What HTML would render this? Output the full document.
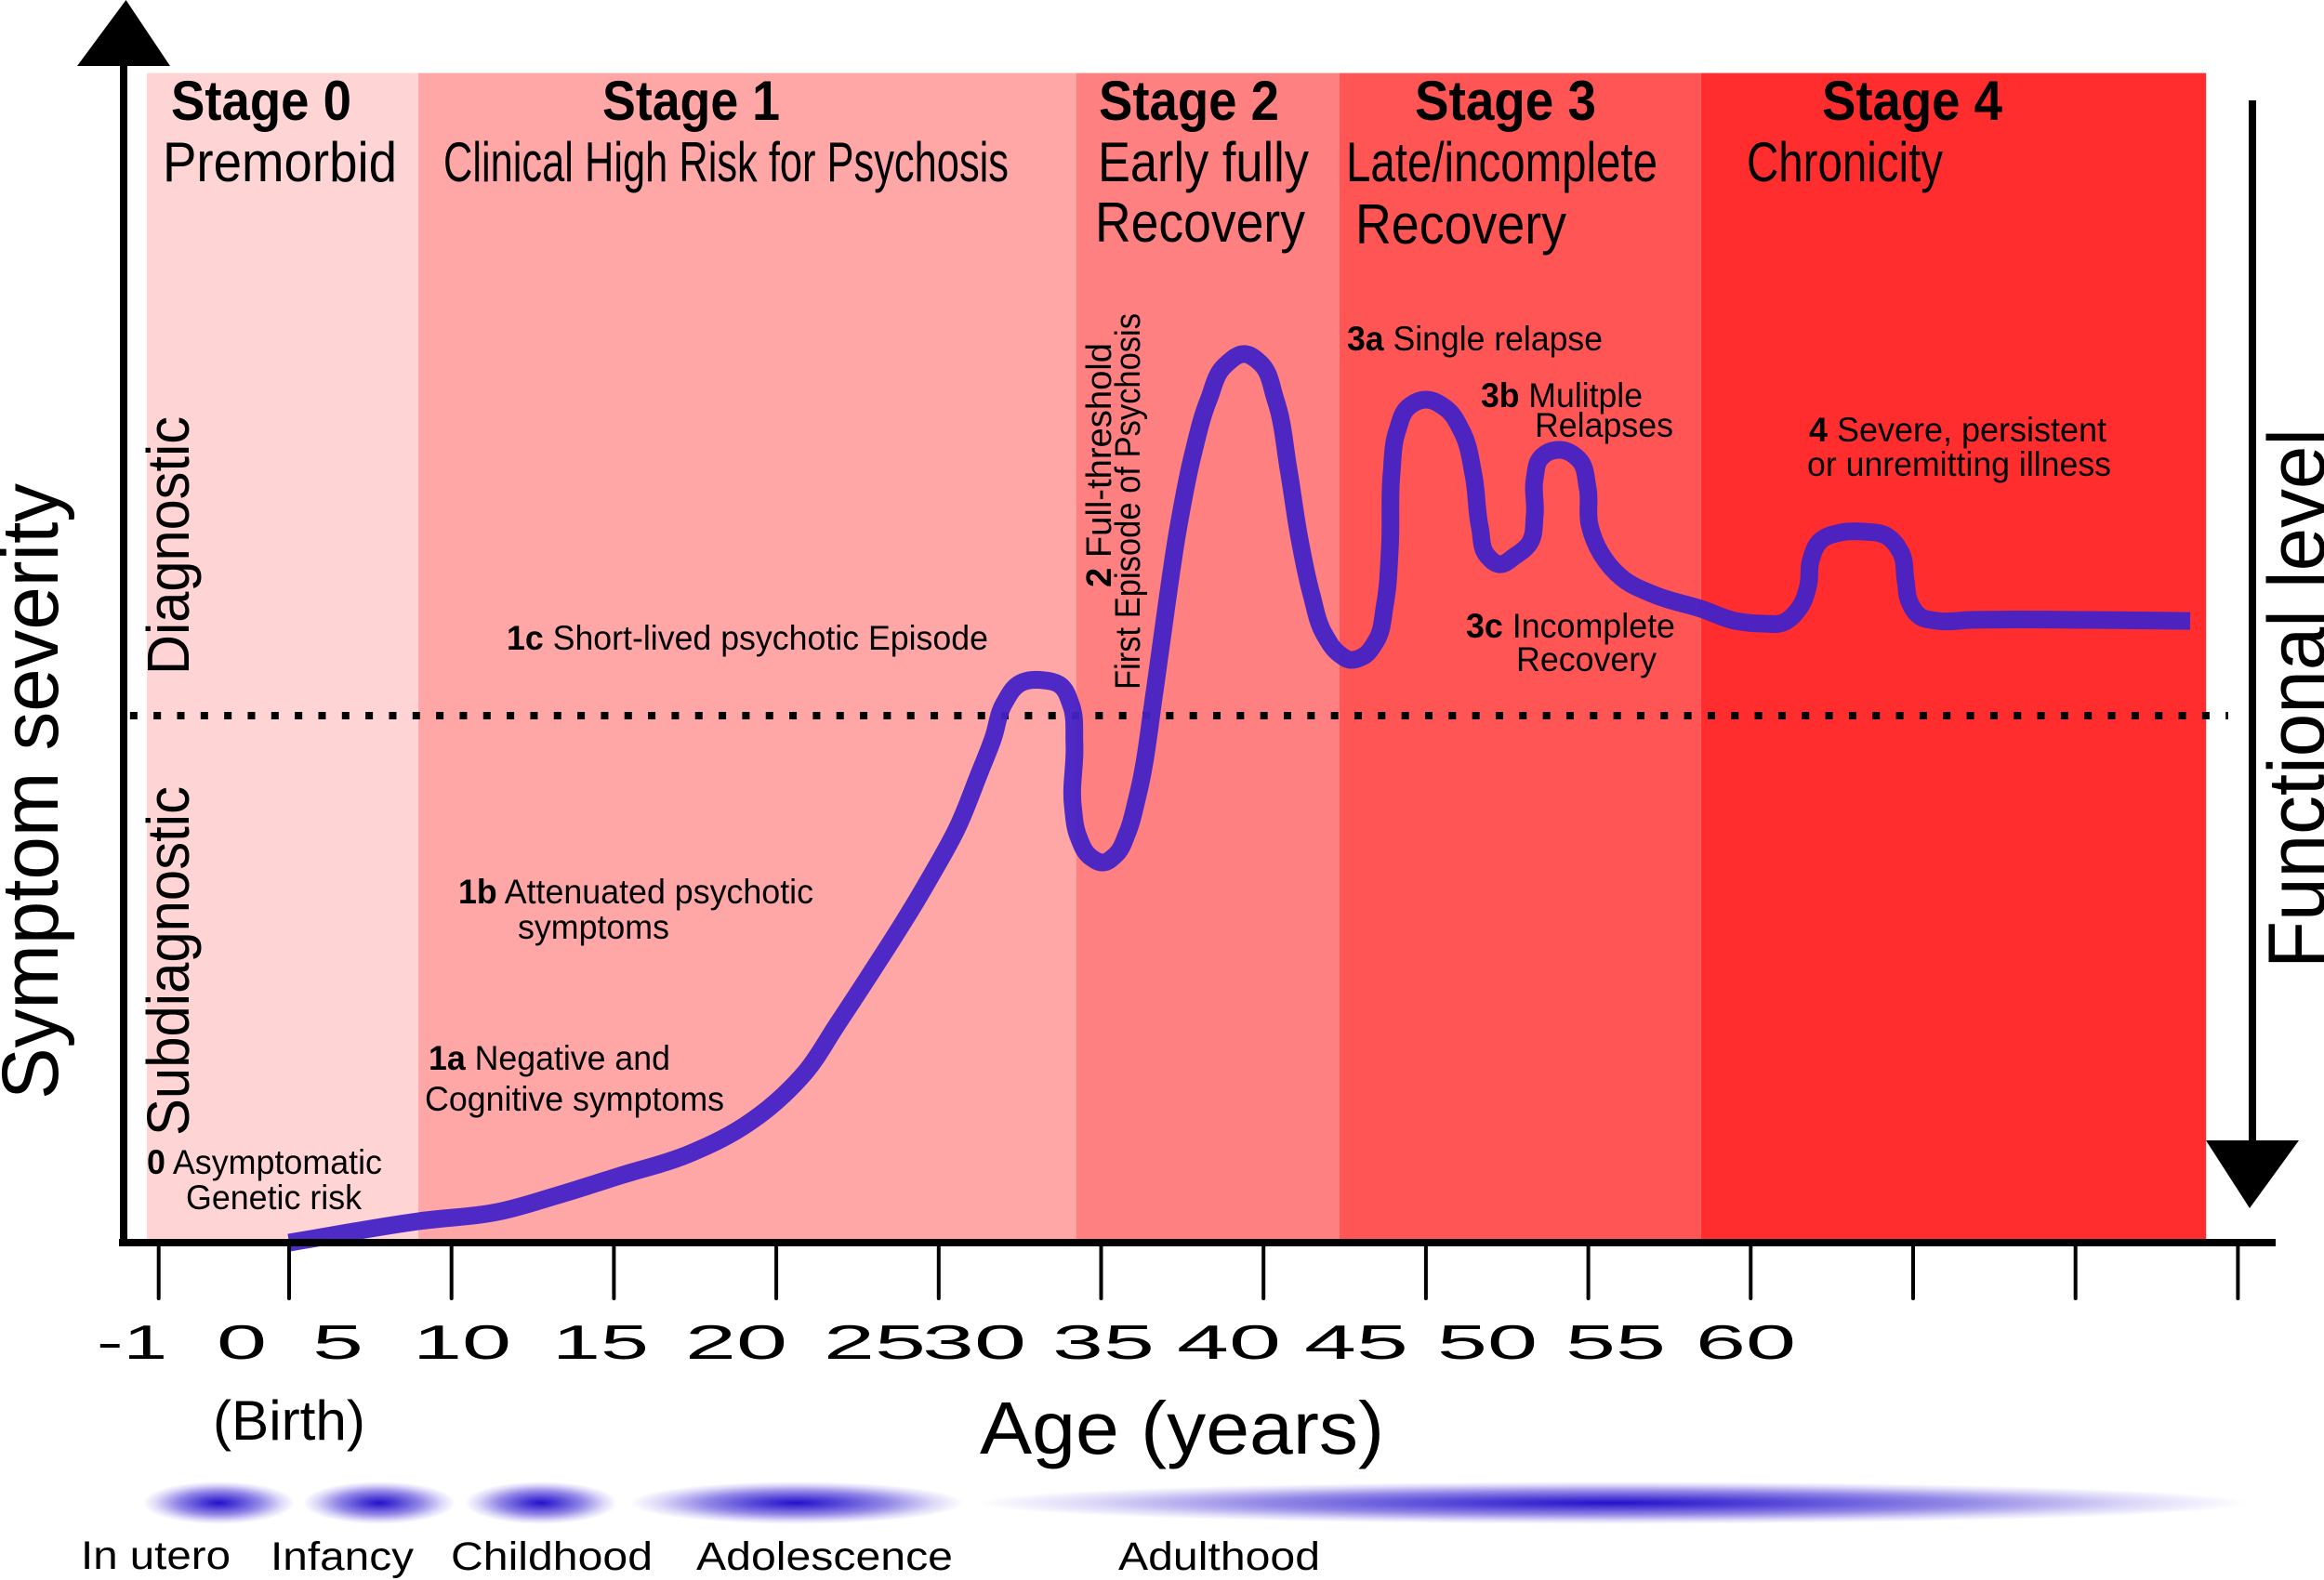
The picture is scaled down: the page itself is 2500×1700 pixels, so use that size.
<!DOCTYPE html>
<html lang="en">
<head>
<meta charset="utf-8">
<title>Clinical staging of psychosis by age</title>
<style>
html,body{margin:0;padding:0;background:#fff;}
svg{display:block;}
text{font-family:"Liberation Sans",Arial,sans-serif;fill:#000;}
.st{font-size:60px;font-weight:700;}
.sub{font-size:60px;}
.an{font-size:37px;}
.tk{font-size:52px;}
.ls{font-size:43px;}
.ax{font-size:86px;}
.zone{font-size:64px;}
tspan.b{font-weight:700;}
</style>
</head>
<body>
<svg id="chart" xmlns="http://www.w3.org/2000/svg" width="2500" height="1700" viewBox="0 0 2500 1700">
  <rect x="0" y="0" width="2500" height="1700" fill="#ffffff"/>
  <defs>
    <radialGradient id="lifeGlow" cx="50%" cy="50%" r="50%">
      <stop offset="0" stop-color="#2410c8"/>
      <stop offset="0.25" stop-color="#5544d8"/>
      <stop offset="0.55" stop-color="#9388e7"/>
      <stop offset="0.82" stop-color="#dcd8f8"/>
      <stop offset="1" stop-color="#ffffff"/>
    </radialGradient>
  </defs>
  <g id="bands"></g>
  <g id="threshold"></g>
  <g id="curve"></g>

  <!-- axes -->
  <g id="ticks"></g>
  <rect x="128" y="1333" width="2320" height="8" fill="#000"/>
  <rect x="129" y="68" width="8" height="1272" fill="#000"/>
  <polygon points="135.5,0 183,71 83,71" fill="#000"/>
  <rect x="2419" y="108" width="8" height="1122" fill="#000"/>
  <polygon points="2373,1227 2473,1227 2420,1300" fill="#000"/>

  <!-- stage headers -->
  <text class="st" x="184" y="129" textLength="194" lengthAdjust="spacingAndGlyphs">Stage 0</text>
  <text class="sub" x="175" y="195" textLength="252" lengthAdjust="spacingAndGlyphs">Premorbid</text>
  <text class="st" x="648" y="129" textLength="191" lengthAdjust="spacingAndGlyphs">Stage 1</text>
  <text class="sub" x="477" y="195" textLength="608" lengthAdjust="spacingAndGlyphs">Clinical High Risk for Psychosis</text>
  <text class="st" x="1182" y="129" textLength="194" lengthAdjust="spacingAndGlyphs">Stage 2</text>
  <text class="sub" x="1181" y="195" textLength="227" lengthAdjust="spacingAndGlyphs">Early fully</text>
  <text class="sub" x="1178" y="260" textLength="226" lengthAdjust="spacingAndGlyphs">Recovery</text>
  <text class="st" x="1522" y="129" textLength="195" lengthAdjust="spacingAndGlyphs">Stage 3</text>
  <text class="sub" x="1448" y="195" textLength="335" lengthAdjust="spacingAndGlyphs">Late/incomplete</text>
  <text class="sub" x="1458" y="262" textLength="227" lengthAdjust="spacingAndGlyphs">Recovery</text>
  <text class="st" x="1960" y="129" textLength="194" lengthAdjust="spacingAndGlyphs">Stage 4</text>
  <text class="sub" x="1879" y="195" textLength="211" lengthAdjust="spacingAndGlyphs">Chronicity</text>

  <!-- annotations -->
  <text class="an" x="545" y="699" textLength="518" lengthAdjust="spacingAndGlyphs"><tspan class="b">1c</tspan> Short-lived psychotic Episode</text>
  <text class="an" x="1449" y="377" textLength="275" lengthAdjust="spacingAndGlyphs"><tspan class="b">3a</tspan> Single relapse</text>
  <text class="an" x="1593" y="438" textLength="174" lengthAdjust="spacingAndGlyphs"><tspan class="b">3b</tspan> Mulitple</text>
  <text class="an" x="1651" y="470" textLength="149" lengthAdjust="spacingAndGlyphs">Relapses</text>
  <text class="an" x="1946" y="475" textLength="320" lengthAdjust="spacingAndGlyphs"><tspan class="b">4</tspan> Severe, persistent</text>
  <text class="an" x="1944" y="512" textLength="327" lengthAdjust="spacingAndGlyphs">or unremitting illness</text>
  <text class="an" x="1577" y="686" textLength="225" lengthAdjust="spacingAndGlyphs"><tspan class="b">3c</tspan> Incomplete</text>
  <text class="an" x="1631" y="722" textLength="151" lengthAdjust="spacingAndGlyphs">Recovery</text>
  <text class="an" x="493" y="972" textLength="382" lengthAdjust="spacingAndGlyphs"><tspan class="b">1b</tspan> Attenuated psychotic</text>
  <text class="an" x="557" y="1010" textLength="163" lengthAdjust="spacingAndGlyphs">symptoms</text>
  <text class="an" x="461" y="1151" textLength="260" lengthAdjust="spacingAndGlyphs"><tspan class="b">1a</tspan> Negative and</text>
  <text class="an" x="457" y="1195" textLength="322" lengthAdjust="spacingAndGlyphs">Cognitive symptoms</text>
  <text class="an" x="158" y="1263" textLength="253" lengthAdjust="spacingAndGlyphs"><tspan class="b">0</tspan> Asymptomatic</text>
  <text class="an" x="200" y="1301" textLength="189" lengthAdjust="spacingAndGlyphs">Genetic risk</text>
  <text transform="translate(1195,632) rotate(-90)" style="font-size:38px" textLength="263" lengthAdjust="spacingAndGlyphs"><tspan class="b">2</tspan> Full-threshold</text>
  <text transform="translate(1226,742) rotate(-90)" style="font-size:38px" textLength="405" lengthAdjust="spacingAndGlyphs">First Episode of Psychosis</text>

  <!-- zone labels and axis titles -->
  <text class="zone" transform="translate(203,726) rotate(-90)" textLength="278" lengthAdjust="spacingAndGlyphs">Diagnostic</text>
  <text class="zone" transform="translate(203,1222) rotate(-90)" textLength="376" lengthAdjust="spacingAndGlyphs">Subdiagnostic</text>
  <text class="ax" transform="translate(62,1183) rotate(-90)" textLength="663" lengthAdjust="spacingAndGlyphs">Symptom severity</text>
  <text class="ax" transform="translate(2500,1042) rotate(-90)" textLength="581" lengthAdjust="spacingAndGlyphs">Functional level</text>

  <!-- x tick labels (printed squeezed, not under their ticks, as in the source figure) -->
  <g>
    <text class="tk" x="104" y="1462" textLength="76" lengthAdjust="spacingAndGlyphs">-1</text>
    <text class="tk" x="233" y="1462" textLength="54" lengthAdjust="spacingAndGlyphs">0</text>
    <text class="tk" x="336" y="1462" textLength="55" lengthAdjust="spacingAndGlyphs">5</text>
    <text class="tk" x="444" y="1462" textLength="106" lengthAdjust="spacingAndGlyphs">10</text>
    <text class="tk" x="594" y="1462" textLength="104" lengthAdjust="spacingAndGlyphs">15</text>
    <text class="tk" x="737" y="1462" textLength="110" lengthAdjust="spacingAndGlyphs">20</text>
    <text class="tk" x="886" y="1462" textLength="110" lengthAdjust="spacingAndGlyphs">25</text>
    <text class="tk" x="992" y="1462" textLength="112" lengthAdjust="spacingAndGlyphs">30</text>
    <text class="tk" x="1132" y="1462" textLength="110" lengthAdjust="spacingAndGlyphs">35</text>
    <text class="tk" x="1266" y="1462" textLength="112" lengthAdjust="spacingAndGlyphs">40</text>
    <text class="tk" x="1403" y="1462" textLength="112" lengthAdjust="spacingAndGlyphs">45</text>
    <text class="tk" x="1546" y="1462" textLength="108" lengthAdjust="spacingAndGlyphs">50</text>
    <text class="tk" x="1684" y="1462" textLength="108" lengthAdjust="spacingAndGlyphs">55</text>
    <text class="tk" x="1824" y="1462" textLength="108" lengthAdjust="spacingAndGlyphs">60</text>
  </g>
  <text class="sub" x="229" y="1549" textLength="164" lengthAdjust="spacingAndGlyphs">(Birth)</text>
  <text x="1054" y="1564" style="font-size:80px" textLength="435" lengthAdjust="spacingAndGlyphs">Age (years)</text>

  <!-- life stage strip -->
  <g id="life"></g>
  <text class="ls" x="87" y="1688" textLength="161" lengthAdjust="spacingAndGlyphs">In utero</text>
  <text class="ls" x="291" y="1689" textLength="154" lengthAdjust="spacingAndGlyphs">Infancy</text>
  <text class="ls" x="485" y="1689" textLength="217" lengthAdjust="spacingAndGlyphs">Childhood</text>
  <text class="ls" x="749" y="1689" textLength="276" lengthAdjust="spacingAndGlyphs">Adolescence</text>
  <text class="ls" x="1203" y="1689" textLength="217" lengthAdjust="spacingAndGlyphs">Adulthood</text>
</svg>

<script>
// ---- data ----
const tickValues = [-1, 0, 5, 10, 15, 20, 25, 30, 35, 40, 45, 50, 55, 60];
const stageNames = ['stage-0', 'stage-1', 'stage-2', 'stage-3', 'stage-4'];
const stageStartAges = [-1.09, 3.98, 24.23, 32.34, 43.47];
const stageEndAges = [3.98, 24.23, 32.34, 43.47, 59.02];
const stageColors = ['#ffd4d4', '#ffa6a6', '#ff8080', '#ff5555', '#ff2d2d'];
const severityTop = 110.97;
const thresholdSeverity = 50;
const thresholdStartAge = -1.22;
const thresholdEndAge = 59.7;
const curveAges = [0, 3.98, 6.55, 8.27, 10.19, 12.28, 14.20, 15.23, 15.91, 16.86, 17.80, 19.72, 20.58, 21.24, 21.67, 22.01, 22.52, 23.24, 23.73, 24.07, 24.18, 24.13, 24.30, 24.67, 25.07, 25.44, 25.82, 26.10, 26.65, 27.02, 27.39, 27.82, 28.31, 28.82, 29.45, 29.88, 30.37, 30.77, 31.11, 31.48, 31.88, 32.31, 32.68, 33.03, 33.46, 33.74, 33.89, 33.94, 34.12, 34.46, 34.97, 35.60, 36.12, 36.46, 36.66, 36.89, 37.24, 37.75, 38.18, 38.35, 38.35, 38.55, 39.12, 39.70, 39.98, 40.04, 40.38, 41.04, 42.04, 43.47, 44.53, 45.39, 45.99, 46.48, 46.77, 46.85, 47.14, 47.77, 48.48, 49.20, 49.63, 49.77, 49.89, 50.20, 50.77, 51.77, 55.38, 58.53];
const curveSeverity = [0, 2.03, 3.00, 4.50, 6.35, 8.38, 11.46, 14.02, 16.23, 20.63, 25.04, 34.57, 39.42, 44.44, 47.80, 51.15, 53.09, 53.35, 52.91, 51.06, 47.35, 41.45, 38.54, 36.60, 36.07, 36.77, 38.98, 42.06, 52.38, 60.58, 68.08, 74.69, 79.98, 83.25, 84.30, 83.51, 79.98, 73.37, 66.75, 61.46, 57.67, 55.91, 55.29, 55.56, 57.05, 60.58, 65.87, 72.93, 77.07, 79.28, 79.98, 79.19, 76.90, 72.93, 67.90, 65.17, 64.37, 65.17, 66.31, 68.96, 72.49, 74.51, 75.22, 74.34, 71.60, 68.08, 65.43, 63.05, 61.46, 60.14, 58.99, 58.73, 58.82, 60.14, 62.35, 64.73, 66.58, 67.37, 67.46, 67.02, 65.43, 62.79, 60.76, 59.44, 58.99, 59.08, 59.08, 58.99];
const lifeStageNames = ['in-utero', 'infancy', 'childhood', 'adolescence', 'adulthood'];
const lifeStageStartAges = [-1.12, 0.43, 5.41, 10.5, 21.2];
const lifeStageEndAges = [0.17, 5.12, 10.1, 20.75, 60.3];

// ---- axis functions ----
function xScale(age) {
  return age < 0 ? 311 + age * 140.3 : 311 + age * 34.94;
}
function yScale(severity) {
  return 1337 - severity * 11.34;
}

const NS = 'http://www.w3.org/2000/svg';
function make(tag, parentId) {
  const el = document.createElementNS(NS, tag);
  document.getElementById(parentId).appendChild(el);
  return el;
}

// ---- stage bands ----
stageNames.forEach(function (name, i) {
  const el = make('rect', 'bands');
  
  
  el.setAttribute('x', xScale(stageStartAges[i]));
  el.setAttribute('width', xScale(stageEndAges[i]) - xScale(stageStartAges[i]));
  el.setAttribute('y', yScale(severityTop));
  el.setAttribute('height', yScale(0) - yScale(severityTop));
  el.setAttribute('fill', stageColors[i]);
});

// ---- threshold ----
const thresholdLine = make('line', 'threshold');


thresholdLine.setAttribute('x1', xScale(thresholdStartAge));
thresholdLine.setAttribute('x2', xScale(thresholdEndAge));
thresholdLine.setAttribute('y1', yScale(thresholdSeverity));
thresholdLine.setAttribute('y2', yScale(thresholdSeverity));
thresholdLine.setAttribute('stroke', '#000');
thresholdLine.setAttribute('stroke-width', '8');
thresholdLine.setAttribute('stroke-dasharray', '8 17.33');

// ---- curve: smooth path through the read points, tangents weighted toward the shorter chord ----
function tangentAt(pts, i) {
  if (i === 0 || i === pts.length - 1) {
    const a = pts[Math.max(i - 1, 0)];
    const b = pts[Math.min(i + 1, pts.length - 1)];
    const l = Math.hypot(b[0] - a[0], b[1] - a[1]) || 1;
    return [(b[0] - a[0]) / l, (b[1] - a[1]) / l];
  }
  const ax = pts[i][0] - pts[i - 1][0];
  const ay = pts[i][1] - pts[i - 1][1];
  const bx = pts[i + 1][0] - pts[i][0];
  const by = pts[i + 1][1] - pts[i][1];
  const la = Math.hypot(ax, ay) || 1;
  const lb = Math.hypot(bx, by) || 1;
  const vx = ax / la * lb + bx / lb * la;
  const vy = ay / la * lb + by / lb * la;
  const lv = Math.hypot(vx, vy) || 1;
  return [vx / lv, vy / lv];
}
function smoothPath(pts) {
  let d = 'M' + pts[0][0].toFixed(1) + ' ' + pts[0][1].toFixed(1);
  for (let i = 0; i < pts.length - 1; i++) {
    const p1 = pts[i];
    const p2 = pts[i + 1];
    const seg = Math.hypot(p2[0] - p1[0], p2[1] - p1[1]) * 0.35;
    const t1 = tangentAt(pts, i);
    const t2 = tangentAt(pts, i + 1);
    d += 'C' + (p1[0] + t1[0] * seg).toFixed(1) + ' ' + (p1[1] + t1[1] * seg).toFixed(1) + ' ' + (p2[0] - t2[0] * seg).toFixed(1) + ' ' + (p2[1] - t2[1] * seg).toFixed(1) + ' ' + p2[0].toFixed(1) + ' ' + p2[1].toFixed(1);
  }
  return d;
}
const curvePoints = curveAges.map(function (age, i) {
  return [xScale(age), yScale(curveSeverity[i])];
});
const curveLine = make('path', 'curve');


curveLine.setAttribute('d', smoothPath(curvePoints));
curveLine.setAttribute('fill', 'none');
curveLine.setAttribute('stroke', '#4522c6');
curveLine.setAttribute('stroke-opacity', '0.95');
curveLine.setAttribute('stroke-width', '19');
curveLine.setAttribute('stroke-linejoin', 'round');

// ---- ticks ----
tickValues.forEach(function (value) {
  const tick = make('line', 'ticks');
  
  
  tick.setAttribute('x1', xScale(value));
  tick.setAttribute('x2', xScale(value));
  tick.setAttribute('y1', 1337);
  tick.setAttribute('y2', 1397);
  tick.setAttribute('stroke', '#000');
  tick.setAttribute('stroke-width', '4');
  tick.setAttribute('stroke-linecap', 'round');
});

// ---- life stage glows ----
lifeStageNames.forEach(function (name, i) {
  const left = xScale(lifeStageStartAges[i]);
  const right = xScale(lifeStageEndAges[i]);
  const glow = make('ellipse', 'life');
  
  
  glow.setAttribute('cx', (left + right) / 2);
  glow.setAttribute('cy', 1617);
  glow.setAttribute('rx', (right - left) / 2);
  glow.setAttribute('ry', 23);
  glow.setAttribute('fill', 'url(#lifeGlow)');
});
</script>
</body>
</html>
